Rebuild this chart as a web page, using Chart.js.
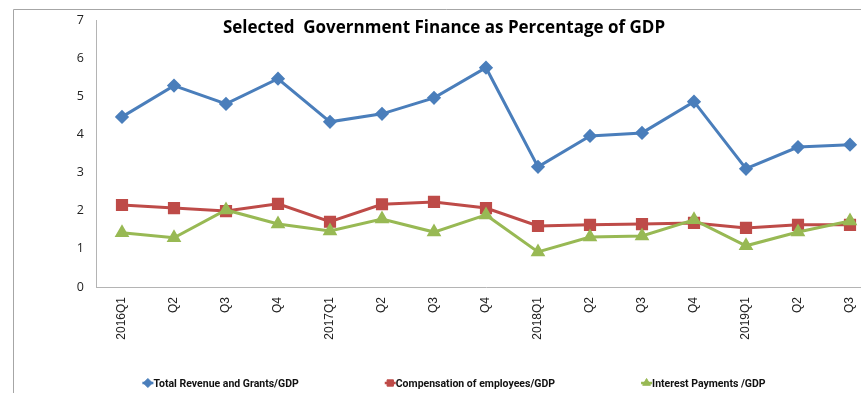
<!DOCTYPE html>
<html>
<head>
<meta charset="utf-8">
<title>Government Finance</title>
<script src="https://cdn.jsdelivr.net/npm/chart.js@4.4.1/dist/chart.umd.min.js"></script>
<style>
  html, body { margin: 0; padding: 0; background: #fff; overflow: hidden; }
  #wrap { position: relative; width: 861px; height: 393px; overflow: hidden; }
  #chart { position: absolute; left: 0; top: 0; }
</style>
</head>
<body>
<div id="wrap"><canvas id="chart" width="880" height="393"></canvas></div>
<script>
// quarterly data, % of GDP
const quarters = ['2016Q1', 'Q2', 'Q3', 'Q4', '2017Q1', 'Q2', 'Q3', 'Q4', '2018Q1', 'Q2', 'Q3', 'Q4', '2019Q1', 'Q2', 'Q3']
const revenue = [4.46, 5.28, 4.80, 5.46, 4.33, 4.54, 4.96, 5.75, 3.15, 3.96, 4.04, 4.86, 3.10, 3.67, 3.73]
const compensation = [2.15, 2.07, 1.99, 2.18, 1.71, 2.17, 2.23, 2.07, 1.60, 1.63, 1.65, 1.68, 1.55, 1.63, 1.63]
const interest = [1.42, 1.29, 2.02, 1.65, 1.47, 1.78, 1.44, 1.89, 0.92, 1.31, 1.34, 1.76, 1.08, 1.44, 1.73]

const seriesNames = ['Total Revenue and Grants/GDP', 'Compensation of employees/GDP', 'Interest Payments /GDP']
const chartTitle = 'Selected  Government Finance as Percentage of GDP'

const sans = '"Open Sans", sans-serif'
const plain = '"Liberation Sans", Arial, sans-serif'

// outer frame, title and the legend row are painted by hand
const decorations = {
  id: 'decorations',
  beforeDraw(chart) {
    const c = chart.ctx
    c.save()
    c.strokeStyle = '#a6a6a6'
    c.lineWidth = 1
    c.beginPath()
    c.moveTo(13.5, 393)
    c.lineTo(13.5, 9.5)
    c.lineTo(880, 9.5)
    c.stroke()
    c.restore()
  },
  afterDraw(chart) {
    const c = chart.ctx
    c.save()
    c.fillStyle = '#000'
    c.textAlign = 'center'
    c.textBaseline = 'alphabetic'
    c.font = 'bold 17px ' + sans
    c.fillText(chartTitle, 444, 33)

    // legend
    c.font = 'bold 10.5px Roboto, ' + sans
    c.textAlign = 'left'
    c.textBaseline = 'middle'
    const sets = chart.data.datasets
    const widths = sets.map(ds => 11 + c.measureText(ds.label).width)
    const gap = 86
    const total = widths.reduce((a, b) => a + b, 0) + gap * (sets.length - 1)
    let x = 455 - total / 2
    const y = 383
    sets.forEach((ds, i) => {
      c.strokeStyle = ds.borderColor
      c.fillStyle = ds.borderColor
      c.lineWidth = 2.5
      c.beginPath()
      c.moveTo(x - 1, y)
      c.lineTo(x + 10, y)
      c.stroke()
      c.lineWidth = 1
      Chart.helpers.drawPoint(c, { pointStyle: ds.pointStyle, radius: 4.5, rotation: 0, borderWidth: 1 }, x + 4.5, y)
      c.fillStyle = '#111'
      c.fillText(ds.label, x + 10, y + 1)
      x += widths[i] + gap
    })
    c.restore()
  }
}

const ctx = document.getElementById('chart').getContext('2d')

const data = {
  labels: quarters,
  datasets: [
    {
      label: seriesNames[0],
      data: revenue,
      borderColor: '#4a7ebb',
      backgroundColor: '#4a7ebb',
      pointStyle: 'rectRot',
      pointRadius: 5,
      borderWidth: 3,
      order: 3
    },
    {
      label: seriesNames[1],
      data: compensation,
      borderColor: '#be4b48',
      backgroundColor: '#be4b48',
      pointStyle: 'rect',
      pointRadius: 6.5,
      borderWidth: 3,
      order: 2
    },
    {
      label: seriesNames[2],
      data: interest,
      borderColor: '#98b954',
      backgroundColor: '#98b954',
      pointStyle: 'triangle',
      pointRadius: 5.5,
      borderWidth: 3,
      order: 1
    }
  ]
}

const config = {
  type: 'line',
  data,
  options: {
    responsive: false,
    animation: false,
    devicePixelRatio: 1,
    layout: { autoPadding: false, padding: { top: 20, right: 4, left: 0, bottom: 0 } },
    plugins: { legend: { display: false }, tooltip: { enabled: false } },
    elements: { line: { tension: 0 }, point: { borderWidth: 1 } },
    scales: {
      x: {
        offset: true,
        grid: { display: false, drawTicks: false },
        border: { display: true, color: '#b4b4b4', width: 1 },
        ticks: {
          autoSkip: false, maxRotation: 90, minRotation: 90, padding: 10,
          color: '#222', font: { family: plain, size: 12 }
        },
        afterFit(s) { s.height = 106; s.paddingLeft = 0; s.paddingRight = 0 }
      },
      y: {
        min: 0, max: 7,
        grid: { display: false, drawTicks: false },
        border: { display: true, color: '#b4b4b4', width: 1 },
        ticks: { stepSize: 1, padding: 12, color: '#222', font: { family: sans, size: 12.5 } },
        afterFit(s) { s.width = 96 }
      }
    }
  },
  plugins: [decorations]
}

const myChart = new Chart(ctx, config)
</script>
</body>
</html>
